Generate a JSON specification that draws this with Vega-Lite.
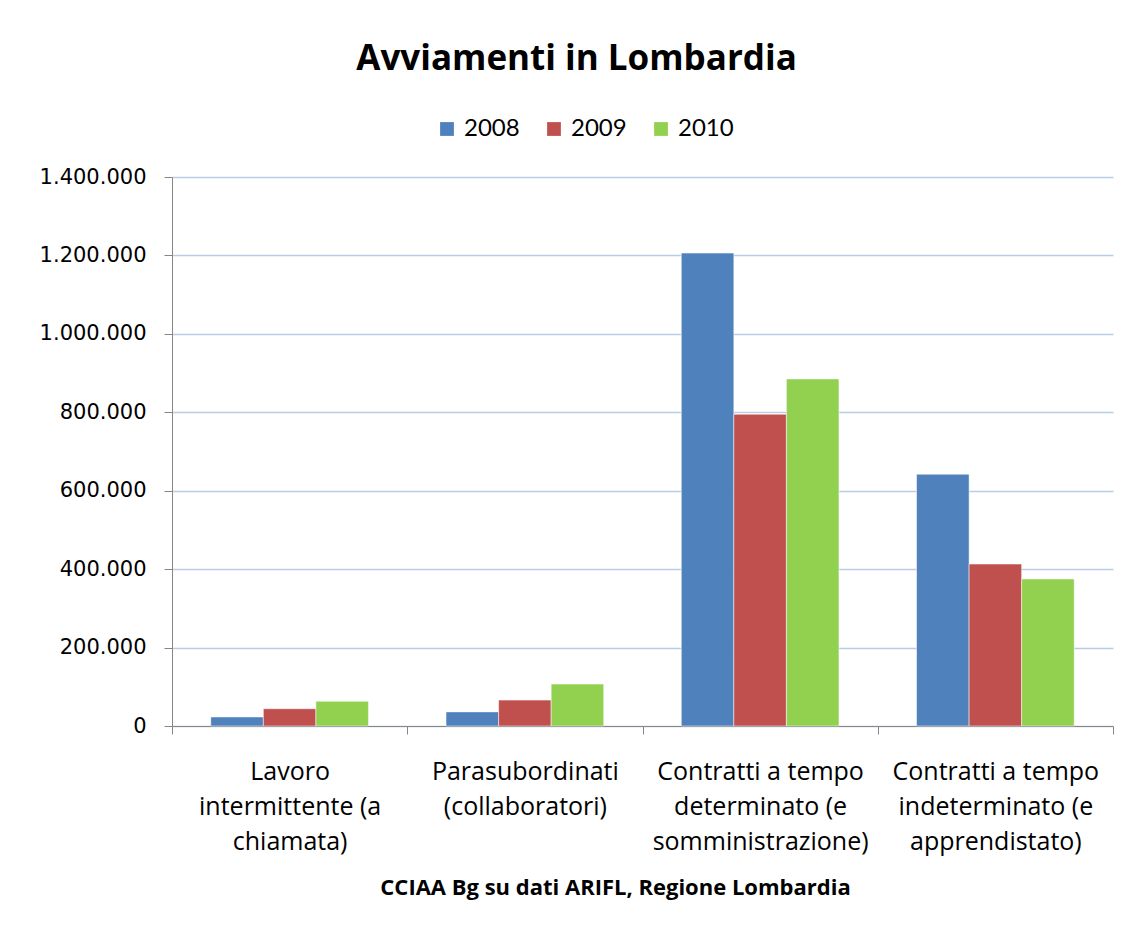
{
  "$schema": "https://vega.github.io/schema/vega-lite/v6.json",
  "autosize": "none",
  "padding": {"left": 172, "top": 177, "right": 18, "bottom": 211},
  "width": 941,
  "height": 549,
  "background": "white",
  "title": {
    "text": "Avviamenti in Lombardia",
    "anchor": "middle",
    "frame": "group",
    "dx": -66,
    "baseline": "alphabetic",
    "offset": 12,
    "font": "Open Sans",
    "fontSize": 35,
    "fontWeight": "bold",
    "color": "#000000"
  },
  "data": {
    "values": [
      {"categoria": "Lavoro intermittente (a chiamata)", "anno": "2008", "avviamenti": 23000},
      {"categoria": "Lavoro intermittente (a chiamata)", "anno": "2009", "avviamenti": 44000},
      {"categoria": "Lavoro intermittente (a chiamata)", "anno": "2010", "avviamenti": 63000},
      {"categoria": "Parasubordinati (collaboratori)", "anno": "2008", "avviamenti": 36000},
      {"categoria": "Parasubordinati (collaboratori)", "anno": "2009", "avviamenti": 66000},
      {"categoria": "Parasubordinati (collaboratori)", "anno": "2010", "avviamenti": 107000},
      {"categoria": "Contratti a tempo determinato (e somministrazione)", "anno": "2008", "avviamenti": 1206000},
      {"categoria": "Contratti a tempo determinato (e somministrazione)", "anno": "2009", "avviamenti": 795000},
      {"categoria": "Contratti a tempo determinato (e somministrazione)", "anno": "2010", "avviamenti": 885000},
      {"categoria": "Contratti a tempo indeterminato (e apprendistato)", "anno": "2008", "avviamenti": 642000},
      {"categoria": "Contratti a tempo indeterminato (e apprendistato)", "anno": "2009", "avviamenti": 413000},
      {"categoria": "Contratti a tempo indeterminato (e apprendistato)", "anno": "2010", "avviamenti": 375000}
    ]
  },
  "mark": {"type": "bar", "stroke": "#ffffff", "strokeWidth": 1, "strokeOpacity": 0.5},
  "encoding": {
    "x": {
      "field": "categoria",
      "type": "nominal",
      "sort": null,
      "scale": {"paddingInner": 0, "paddingOuter": 0},
      "axis": {
        "title": "CCIAA Bg su dati ARIFL, Regione Lombardia",
        "titleFont": "Open Sans",
        "titleFontSize": 22,
        "titleFontWeight": "bold",
        "titleColor": "#000000",
        "titleX": 443,
        "titlePadding": 23,
        "labelAngle": 0,
        "labelFont": "Open Sans",
        "labelFontSize": 25,
        "labelColor": "#000000",
        "labelLineHeight": 35,
        "labelPadding": 25,
        "labelLimit": 300,
        "labelExpr": "datum.label == 'Lavoro intermittente (a chiamata)' ? ['Lavoro', 'intermittente (a', 'chiamata)'] : datum.label == 'Parasubordinati (collaboratori)' ? ['Parasubordinati', '(collaboratori)'] : datum.label == 'Contratti a tempo determinato (e somministrazione)' ? ['Contratti a tempo', 'determinato (e', 'somministrazione)'] : datum.label == 'Contratti a tempo indeterminato (e apprendistato)' ? ['Contratti a tempo', 'indeterminato (e', 'apprendistato)'] : ''",
        "tickBand": "extent",
        "tickSize": 8,
        "tickColor": "#868686",
        "domainColor": "#868686",
        "grid": false
      }
    },
    "xOffset": {"field": "anno", "type": "nominal", "scale": {"paddingInner": 0, "paddingOuter": 0.738}},
    "y": {
      "field": "avviamenti",
      "type": "quantitative",
      "scale": {"domain": [0, 1400000], "nice": false},
      "axis": {
        "title": null,
        "values": [0, 200000, 400000, 600000, 800000, 1000000, 1200000, 1400000],
        "labelExpr": "replace(format(datum.value, ','), /,/g, '.')",
        "labelFont": "DejaVu Sans",
        "labelFontSize": 21,
        "labelColor": "#000000",
        "labelPadding": 18,
        "tickSize": 8,
        "tickColor": "#868686",
        "domainColor": "#868686",
        "gridColor": "#B9CDE5",
        "gridWidth": 1.5
      }
    },
    "color": {
      "field": "anno",
      "type": "nominal",
      "scale": {"domain": ["2008", "2009", "2010"], "range": ["#4F81BD", "#C0504D", "#92D050"]},
      "legend": {
        "title": null,
        "orient": "none",
        "direction": "horizontal",
        "legendX": 263,
        "legendY": -60,
        "symbolType": "square",
        "symbolSize": 190,
        "symbolStrokeWidth": 0,
        "symbolOpacity": 1,
        "labelFont": "Lato",
        "labelFontSize": 24,
        "labelColor": "#000000",
        "labelOffset": 5,
        "columnPadding": 22
      }
    }
  },
  "config": {
    "view": {"stroke": null}
  }
}
